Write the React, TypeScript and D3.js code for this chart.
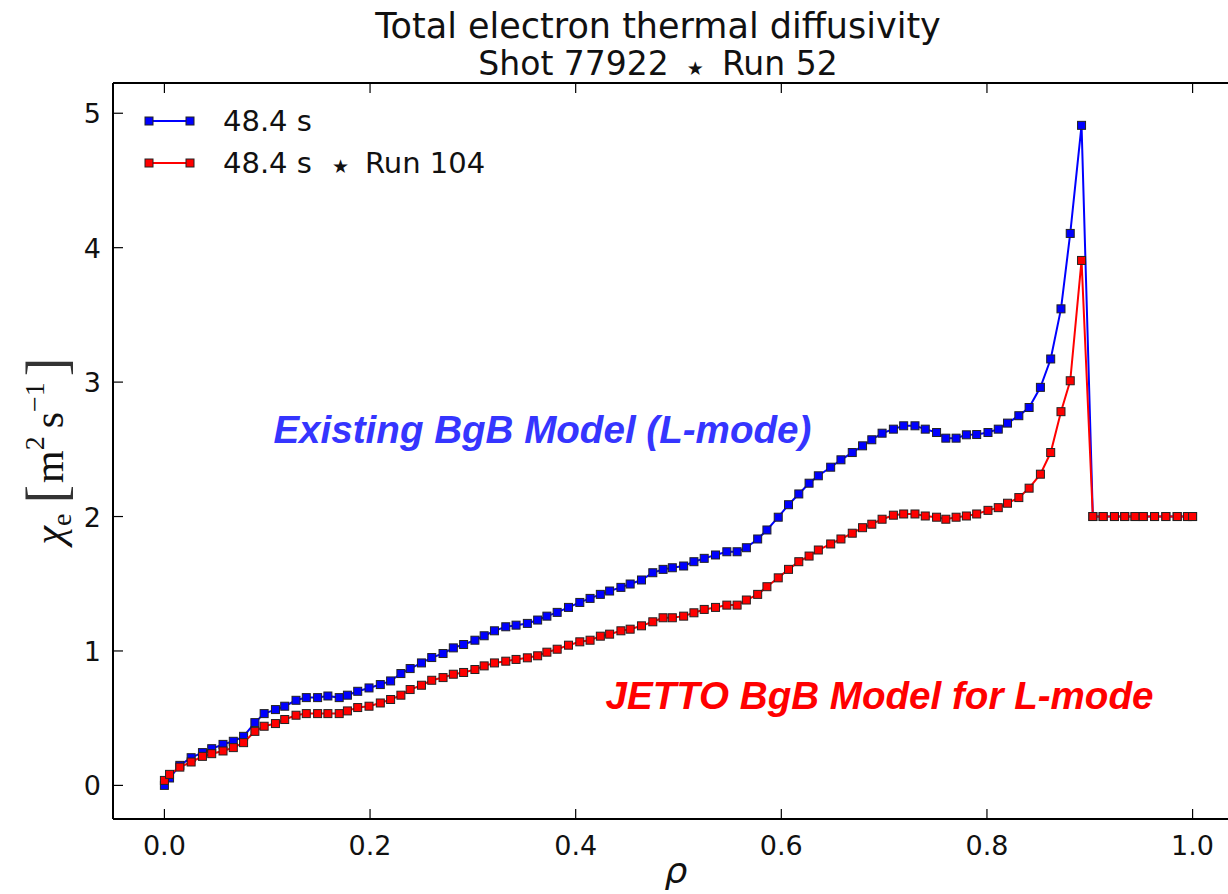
import React from 'react';
import * as d3 from 'd3';

const rho = [
  0.000, 0.005, 0.015, 0.026, 0.037, 0.046, 0.057, 0.067, 0.077, 0.088,
  0.097, 0.108, 0.117, 0.128, 0.138, 0.149, 0.159, 0.170, 0.178, 0.188,
  0.199, 0.210, 0.220, 0.230, 0.239, 0.250, 0.260, 0.271, 0.281, 0.291,
  0.302, 0.311, 0.321, 0.332, 0.342, 0.353, 0.363, 0.372, 0.382, 0.393,
  0.404, 0.414, 0.424, 0.433, 0.444, 0.453, 0.464, 0.475, 0.485, 0.494,
  0.505, 0.515, 0.525, 0.536, 0.547, 0.557, 0.566, 0.577, 0.586, 0.597,
  0.607, 0.617, 0.627, 0.636, 0.648, 0.658, 0.669, 0.679, 0.688, 0.698,
  0.709, 0.719, 0.730, 0.740, 0.751, 0.760, 0.770, 0.780, 0.790, 0.801,
  0.811, 0.820, 0.831, 0.841, 0.852, 0.862, 0.872, 0.881, 0.892, 0.903,
  0.913, 0.924, 0.934, 0.944, 0.952, 0.963, 0.974, 0.985, 0.995, 1.000,
];

const chiRun52 = [
  0.000, 0.055, 0.149, 0.206, 0.244, 0.273, 0.305, 0.328, 0.365, 0.467,
  0.534, 0.564, 0.589, 0.633, 0.653, 0.653, 0.665, 0.653, 0.671, 0.700,
  0.725, 0.750, 0.777, 0.832, 0.869, 0.911, 0.951, 0.981, 1.023, 1.048,
  1.080, 1.113, 1.150, 1.180, 1.192, 1.205, 1.230, 1.259, 1.287, 1.324,
  1.361, 1.391, 1.421, 1.446, 1.473, 1.498, 1.528, 1.582, 1.607, 1.619,
  1.632, 1.664, 1.689, 1.714, 1.738, 1.738, 1.768, 1.833, 1.900, 1.995,
  2.088, 2.168, 2.248, 2.303, 2.367, 2.422, 2.476, 2.526, 2.571, 2.620,
  2.650, 2.675, 2.675, 2.650, 2.625, 2.583, 2.583, 2.608, 2.610, 2.625,
  2.650, 2.695, 2.750, 2.811, 2.961, 3.172, 3.545, 4.106, 4.910, 2.000,
  2.000, 2.000, 2.000, 2.000, 2.000, 2.000, 2.000, 2.000, 2.000, 2.000,
];

const chiRun104 = [
  0.037, 0.082, 0.136, 0.174, 0.216, 0.236, 0.256, 0.281, 0.318, 0.402,
  0.440, 0.460, 0.490, 0.522, 0.534, 0.534, 0.534, 0.534, 0.554, 0.579,
  0.589, 0.613, 0.639, 0.671, 0.713, 0.745, 0.782, 0.802, 0.827, 0.840,
  0.862, 0.889, 0.911, 0.924, 0.937, 0.949, 0.964, 0.991, 1.013, 1.043,
  1.068, 1.080, 1.110, 1.125, 1.150, 1.162, 1.187, 1.217, 1.247, 1.247,
  1.259, 1.284, 1.309, 1.324, 1.341, 1.341, 1.379, 1.421, 1.478, 1.544,
  1.607, 1.664, 1.706, 1.751, 1.796, 1.833, 1.876, 1.917, 1.943, 1.980,
  2.010, 2.019, 2.019, 2.004, 1.995, 1.980, 1.995, 2.004, 2.019, 2.046,
  2.066, 2.099, 2.141, 2.211, 2.315, 2.476, 2.780, 3.010, 3.905, 2.000,
  2.000, 2.000, 2.000, 2.000, 2.000, 2.000, 2.000, 2.000, 2.000, 2.000,
];

const xTicks = [0.0, 0.2, 0.4, 0.6, 0.8, 1.0];
const yTicks = [0, 1, 2, 3, 4, 5];
const seriesLabels = [['48.4 s'], ['48.4 s', 'Run 104']];
const seriesColors = ['#0000ff', '#ff0000'];
const titleText = 'Total electron thermal diffusivity';
const subtitleParts = ['Shot 77922', 'Run 52'];
const STAR = '\u2605';
const annotations = [
  { text: 'Existing BgB Model (L-mode)', rho: 0.106, chi: 2.545, color: '#3535ff' },
  { text: 'JETTO BgB Model for L-mode', rho: 0.429, chi: 0.57, color: '#ff0000' },
];

export default function App() {
  const W = 1228;
  const H = 894;
  const L = 113, R = 1244, T = 83, B = 819;
  const x = d3.scaleLinear().domain([-0.05, 1.05]).range([L, R]);
  const y = d3.scaleLinear().domain([-0.25, 5.225]).range([B, T]);
  const sans = 'DejaVu Sans, sans-serif';
  const series = [chiRun52, chiRun104];
  const line = d3
    .line<number>()
    .x((_, i) => x(rho[i]))
    .y((d) => y(d));
  const ms = 8;
  const tickLen = 10;
  const titleX = 658;

  return (
    <svg
      width={W}
      height={H}
      viewBox={`0 0 ${W} ${H}`}
      style={{ position: 'absolute', left: 0, top: 0, background: '#fff' }}
    >
      <rect x={0} y={0} width={W} height={H} fill="#fff" />
      <defs>
        <clipPath id="plotclip">
          <rect x={L} y={T} width={R - L} height={B - T} />
        </clipPath>
      </defs>

      {/* Title */}
      <text x={titleX} y={38} textAnchor="middle" fontFamily={sans} fontSize={35} fill="#111">
        {titleText}
      </text>
      <text x={titleX} y={75} textAnchor="middle" fontFamily={sans} fontSize={33} fill="#111">
        <tspan>{subtitleParts[0]}</tspan>
        <tspan dx={18} fontSize={19}>{STAR}</tspan>
        <tspan dx={18}>{subtitleParts[1]}</tspan>
      </text>

      {/* Series */}
      <g clipPath="url(#plotclip)">
        {series.map((s, k) => (
          <g key={k}>
            <path d={line(s) || ''} fill="none" stroke={seriesColors[k]} strokeWidth={2} />
            {s.map((v, i) => (
              <rect
                key={i}
                x={x(rho[i]) - ms / 2}
                y={y(v) - ms / 2}
                width={ms}
                height={ms}
                fill={seriesColors[k]}
                stroke="#222"
                strokeWidth={1}
              />
            ))}
          </g>
        ))}
      </g>

      {/* Annotations */}
      {annotations.map((a, i) => (
        <text
          key={i}
          x={x(a.rho)}
          y={y(a.chi)}
          fontFamily="Liberation Sans, Arial, sans-serif"
          fontWeight="bold"
          fontStyle="italic"
          fontSize={38.6}
          fill={a.color}
        >
          {a.text}
        </text>
      ))}

      {/* Axes frame */}
      <line x1={L} y1={T} x2={L} y2={B} stroke="#000" strokeWidth={2} />
      <line x1={L} y1={B} x2={R} y2={B} stroke="#000" strokeWidth={2} />
      <line x1={L} y1={T} x2={R} y2={T} stroke="#000" strokeWidth={2} />

      {/* X ticks */}
      {xTicks.map((t) => (
        <g key={t}>
          <line x1={x(t)} x2={x(t)} y1={B} y2={B - tickLen} stroke="#000" strokeWidth={1.2} />
          <line x1={x(t)} x2={x(t)} y1={T} y2={T + tickLen} stroke="#000" strokeWidth={1.2} />
          <text x={x(t)} y={855} textAnchor="middle" fontFamily={sans} fontSize={27} fill="#111">
            {d3.format('.1f')(t)}
          </text>
        </g>
      ))}

      {/* Y ticks */}
      {yTicks.map((t) => (
        <g key={t}>
          <line x1={L} x2={L + tickLen} y1={y(t)} y2={y(t)} stroke="#000" strokeWidth={1.2} />
          <text x={101} y={y(t) + 10} textAnchor="end" fontFamily={sans} fontSize={27} fill="#111">
            {t}
          </text>
        </g>
      ))}

      {/* Axis labels */}
      <text x={676} y={883} textAnchor="middle" fontFamily={sans} fontStyle="italic" fontSize={36} fill="#111">
        ρ
      </text>
      <text
        transform={`translate(63,${(T + B) / 2}) rotate(-90)`}
        textAnchor="middle"
        fontFamily="Liberation Serif, DejaVu Serif, serif"
        fontSize={42}
        fill="#111"
      >
        <tspan fontStyle="italic">χ</tspan>
        <tspan fontSize={28} dy={8}>e</tspan>
        <tspan fontSize={56} dy={-6} dx={10} fill="#333">[</tspan>
        <tspan dy={-2} dx={2}>m</tspan>
        <tspan fontSize={28} dy={-19}>2</tspan>
        <tspan dy={19} dx={8}>s</tspan>
        <tspan fontSize={28} dy={-19}>−1</tspan>
        <tspan fontSize={56} dy={21} dx={6} fill="#333">]</tspan>
      </text>

      {/* Legend */}
      {seriesLabels.map((lab, k) => {
        const ly = 121 + k * 42;
        return (
          <g key={k}>
            <line x1={149} x2={190} y1={ly} y2={ly} stroke={seriesColors[k]} strokeWidth={2} />
            <rect x={149 - ms / 2} y={ly - ms / 2} width={ms} height={ms} fill={seriesColors[k]} stroke="#222" strokeWidth={1} />
            <rect x={190 - ms / 2} y={ly - ms / 2} width={ms} height={ms} fill={seriesColors[k]} stroke="#222" strokeWidth={1} />
            <text x={223} y={ly + 10} fontFamily={sans} fontSize={29} fill="#111">
              <tspan>{lab[0]}</tspan>
              {lab.length > 1 && (
                <>
                  <tspan dx={20} fontSize={19}>{STAR}</tspan>
                  <tspan dx={16}>{lab[1]}</tspan>
                </>
              )}
            </text>
          </g>
        );
      })}
    </svg>
  );
}
